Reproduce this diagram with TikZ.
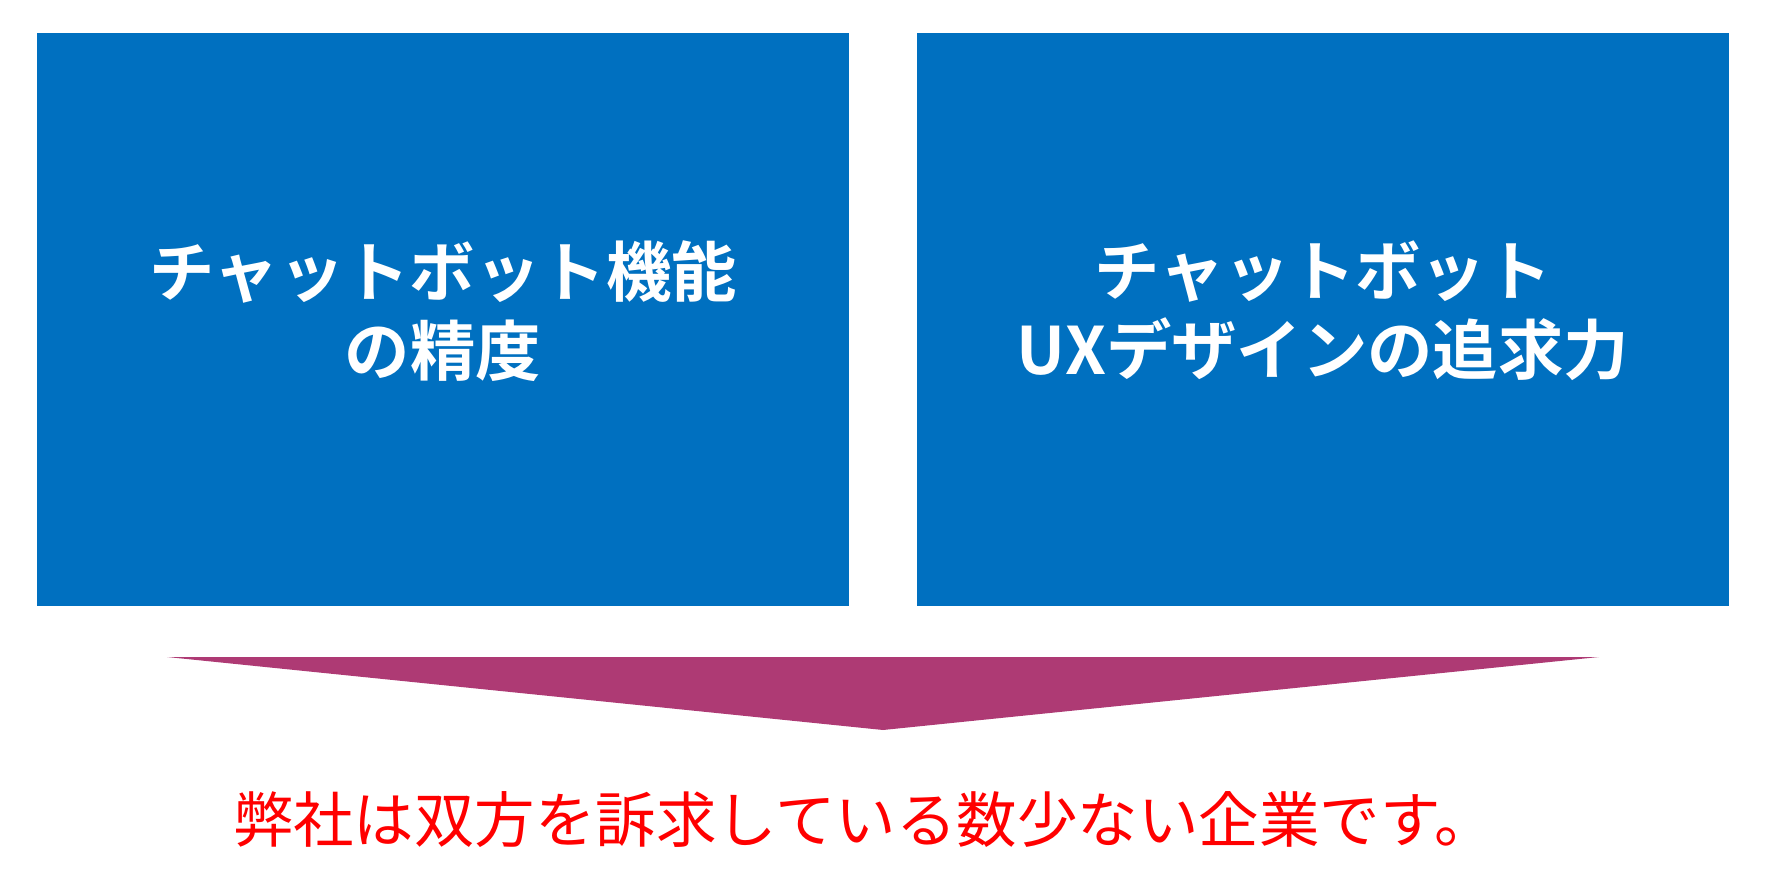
\documentclass[tikz,border=0pt]{standalone}
\usepackage{fontspec}
\usepackage{xcolor}
\usepackage{tikz}
\usetikzlibrary{positioning}
\newfontfamily\jpfont{Noto Sans CJK JP}
\newfontfamily\jpbold{Noto Sans CJK JP Bold}
\definecolor{boxblue}{RGB}{0,112,192}
\definecolor{arrowplum}{RGB}{174,58,116}
\definecolor{notered}{RGB}{255,0,0}

\begin{document}
\begin{tikzpicture}[
  x=0.025cm, y=-0.025cm,
  panel/.style={rectangle, fill=boxblue, minimum width=20.3cm, minimum height=14.325cm, inner sep=0pt},
  paneltext/.style={align=center, text=white, inner sep=0pt, font=\jpbold\fontsize{46.5}{56}\selectfont},
  summary/.style={text=notered, inner sep=0pt, font=\jpfont\fontsize{43}{52}\selectfont},
]
  \useasboundingbox (0,0) rectangle (1768,879);

  % Panels
  \node[panel] (accuracy) at (443,319.5) {};
  \node[panel] (uxdesign) at (1323,319.5) {};
  \node[paneltext] (accuracytext) at (443,311) {チャットボット機能\\の精度};
  \node[paneltext] (uxdesigntext) at (1323,311) {チャットボット\\UXデザインの追求力};

  % Arrow
  \coordinate (arrowleft) at (167,657);
  \coordinate (arrowright) at (1599,657);
  \coordinate (arrowtip) at (883,730);
  \fill[arrowplum] (arrowleft) -- (arrowright) -- (arrowtip) -- cycle;

  % Conclusion
  \node[summary] (conclusion) at (864,820) {弊社は双方を訴求している数少ない企業です。};
\end{tikzpicture}
\end{document}
